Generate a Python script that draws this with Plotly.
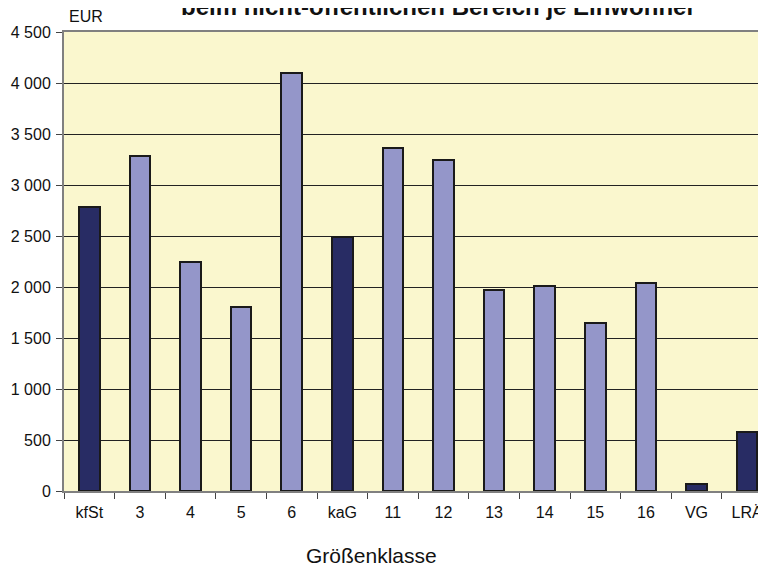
import plotly.graph_objects as go

categories = ["kfSt", "3", "4", "5", "6", "kaG", "11", "12", "13", "14", "15", "16", "VG", "LRÄ"]
values = [2780, 3280, 2245, 1800, 4100, 2486, 3360, 3248, 1975, 2006, 1647, 2039, 68, 575]
is_summary = [True, False, False, False, False, True, False, False, False, False, False, False, True, True]
y_ticks = list(range(0, 4501, 500))

DARK = "#282C64"
LIGHT = "#9496C9"
FONT = "Liberation Sans, Arial, sans-serif"

x_pos = list(range(len(categories)))
colors = [DARK if s else LIGHT for s in is_summary]

fig = go.Figure()
fig.add_trace(go.Bar(
    x=x_pos, y=values, width=0.41,
    marker=dict(color=colors, line=dict(color="#1A1A1A", width=2)),
    hoverinfo="x+y",
))

fig.update_layout(
    width=758, height=561,
    margin=dict(l=56, r=0, t=24, b=78),
    paper_bgcolor="white",
    plot_bgcolor="#FAF7CE",
    separators=", ",
    showlegend=False,
    font=dict(family=FONT, color="#111111"),
    bargap=0,
)

fig.update_xaxes(
    range=[-0.5, -0.5 + 702 / 50.6],
    tickmode="array", tickvals=x_pos, ticktext=categories,
    ticks="", ticklabelstandoff=6,
    tickfont=dict(size=16, family=FONT, color="#111111"),
    showgrid=False, zeroline=False,
    showline=True, linecolor="#808080", linewidth=2, mirror=True,
    minor=dict(tickvals=[i - 0.5 for i in range(len(categories) + 1)],
               ticks="outside", ticklen=6, tickcolor="#444444", tickwidth=1, showgrid=False),
)
fig.update_yaxes(
    range=[0, 4500],
    tickmode="array", tickvals=y_ticks,
    tickformat=",d",
    ticks="outside", ticklen=6, tickcolor="#444444", ticklabelstandoff=2,
    tickfont=dict(size=16, family=FONT, color="#111111"),
    showgrid=True, gridcolor="#222222", gridwidth=1,
    zeroline=False,
    showline=True, linecolor="#808080", linewidth=2,
)

fig.add_annotation(
    text="<b>beim nicht-öffentlichen Bereich je Einwohner</b>",
    xref="paper", yref="paper", x=0.5335, y=1.0211,
    xanchor="center", yanchor="bottom", showarrow=False,
    font=dict(size=24, family=FONT, color="#111111"),
)
fig.add_annotation(
    text="EUR", xref="paper", yref="paper", x=0.032, y=1.0327,
    xanchor="center", yanchor="middle", showarrow=False,
    font=dict(size=16, family=FONT, color="#111111"),
)
fig.add_annotation(
    text="Größenklasse", xref="paper", yref="paper", x=0.4387, y=-0.1416,
    xanchor="center", yanchor="middle", showarrow=False,
    font=dict(size=21, family=FONT, color="#111111"),
)

fig.write_html("out.html")
